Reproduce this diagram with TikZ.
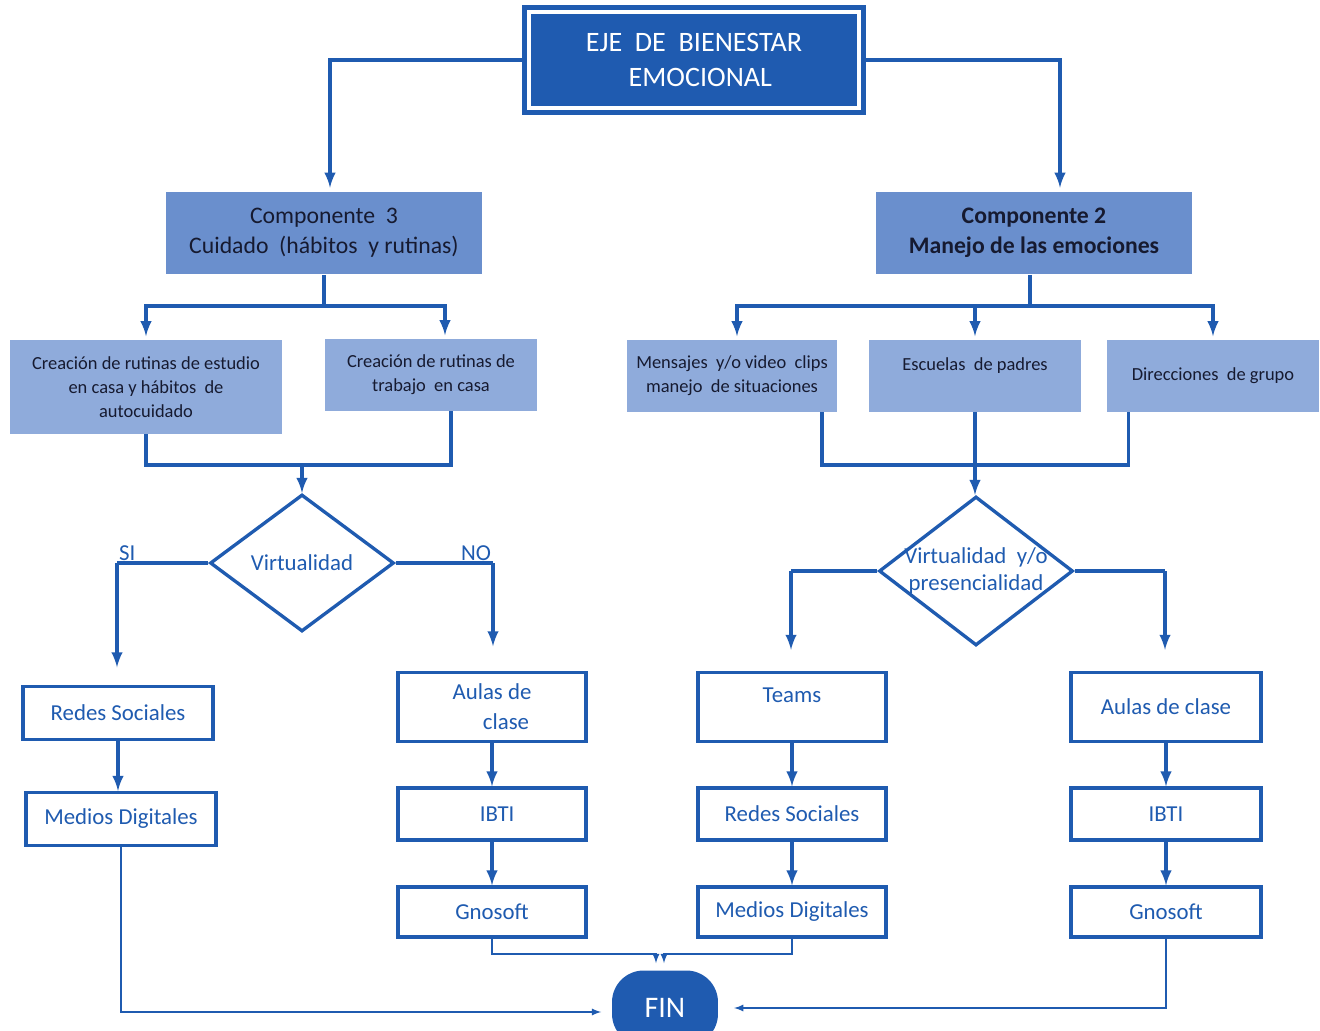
\documentclass[tikz,border=0pt]{standalone}
\usepackage{fontspec}
\setmainfont{Carlito}
\usetikzlibrary{arrows,shapes,positioning,calc}
\definecolor{ebblue}{RGB}{31,91,176}
\definecolor{ebmid}{RGB}{106,143,205}
\definecolor{eblight}{RGB}{143,171,219}
\definecolor{ebtext}{RGB}{22,26,48}
\tikzstyle{arrow} = [line width=1.9pt,->,>=latex,color=ebblue]
\tikzstyle{link} = [line width=1.9pt,color=ebblue]
\tikzstyle{thinarrow} = [line width=0.8pt,->,>=latex,color=ebblue]
\tikzstyle{compbox} = [rectangle, fill=ebmid, text=ebtext, align=center, minimum width=6.32cm, minimum height=1.66cm, font=\fontsize{13.5}{17}\selectfont]
\tikzstyle{subbox} = [rectangle, fill=eblight, text=ebtext, align=center, minimum height=1.44cm, font=\fontsize{10.5}{13.5}\selectfont]
\tikzstyle{toolbox} = [rectangle, draw=ebblue, line width=1.9pt, fill=white, text=ebblue, align=center, minimum width=3.76cm, font=\fontsize{13}{17}\selectfont]
\tikzstyle{decision} = [diamond, draw=ebblue, line width=1.9pt, text=ebblue, align=center, inner sep=-6pt, font=\fontsize{13}{15}\selectfont]

\begin{document}
\begin{tikzpicture}[x=0.02cm, y=-0.02cm]
    \useasboundingbox (0,0) rectangle (1320,1031);

    % Main axis
    \node[rectangle, fill=ebblue, draw=ebblue, line width=2.6pt, double=white, double distance=2.8pt,
          minimum width=6.6cm, minimum height=1.92cm, text=white, align=center,
          font=\fontsize{16}{20}\selectfont] (eje) at (694,60) {EJE\ \ DE\ \ BIENESTAR\\\ \ EMOCIONAL};

    % Components
    \node[compbox] (comp3) at (324,233) {Componente\ \ 3\\Cuidado\ \ (hábitos\ \ y rutinas)};
    \node[compbox, font=\bfseries\fontsize{13.5}{17}\selectfont] (comp2) at (1034,233) {Componente 2\\Manejo de las emociones};
    \draw[arrow, shorten >=2pt] (eje.west) -| ($(comp3.north)+(6,0)$);
    \draw[arrow, shorten >=2pt] (eje.east) -| ($(comp2.north)+(26,0)$);

    % Strategies (component 3)
    \node[subbox, minimum width=5.44cm, minimum height=1.88cm] (subA) at (146,387) {Creación de rutinas de estudio\\en casa y hábitos\ \ de\\autocuidado};
    \node[subbox, minimum width=4.26cm] (subB) at (431,375) {Creación de rutinas de\\trabajo\ \ en casa};
    \coordinate (c3split) at ($(comp3.south)+(0,31)$);
    \draw[link] (comp3.south) -- (c3split);
    \draw[arrow, shorten >=2pt] (c3split) -| (subA.north);
    \draw[arrow, shorten >=2pt] (c3split) -| ($(subB.north)+(14,0)$);

    % Strategies (component 2)
    \node[subbox, minimum width=4.22cm] (subC) at (732,376) {Mensajes\ \ y/o video\ \ clips\\manejo\ \ de situaciones};
    \node[subbox, minimum width=4.24cm] (subD) at (975,376) {Escuelas\ \ de padres\\\mbox{}};
    \node[subbox, minimum width=4.26cm] (subE) at (1213,376) {Direcciones\ \ de grupo};
    \coordinate (c2split) at ($(comp2.south)+(-4,31)$);
    \draw[link] ($(comp2.south)+(-4,0)$) -- (c2split);
    \draw[arrow, shorten >=2pt] (c2split) -| ($(subC.north)+(5,0)$);
    \draw[arrow, shorten >=2pt] (c2split) -| (subD.north);
    \draw[arrow, shorten >=2pt] (c2split) -| (subE.north);

    % Decisions
    \node[decision, minimum width=3.68cm, minimum height=2.74cm] (virt) at (302,563) {Virtualidad};
    \node[decision, minimum width=3.88cm, minimum height=2.98cm] (virt2) at (976,571) {Virtualidad\ \ y/o\\presencialidad};

    \coordinate (c3join) at (virt.north |- 0,465);
    \draw[link] (subA.south) |- (c3join);
    \draw[link] ($(subB.south)+(20,0)$) |- (c3join);
    \draw[arrow] (c3join) -- (virt.north);

    \coordinate (c2join) at (subD.south |- 0,465);
    \draw[link] ($(subC.south east)+(-16,0)$) |- (c2join);
    \draw[link] ($(subE.south west)+(22,0)$) |- (c2join);
    \draw[link] (subD.south) -- (c2join);
    \draw[arrow] (c2join) -- (c2join |- virt2.north);

    % Tools
    \node[toolbox, minimum width=3.8cm, minimum height=1.06cm] (redes1) at (118,713) {Redes Sociales};
    \node[toolbox, minimum width=3.8cm, minimum height=1.06cm] (medios1) at (121,819) {Medios Digitales};
    \node[toolbox, minimum height=1.38cm] (aulas1) at (492,707) {Aulas de\\\quad\ clase};
    \node[toolbox, minimum height=1.04cm] (ibti1) at (492,814) {\ \ IBTI};
    \node[toolbox, minimum height=1.0cm] (gno1) at (492,912) {Gnosoft};
    \node[toolbox, minimum height=1.38cm] (teams) at (792,707) {Teams\\[-4pt]\mbox{}};
    \node[toolbox, minimum height=1.04cm] (redes2) at (792,814) {Redes Sociales};
    \node[toolbox, minimum height=1.0cm] (medios2) at (792,912) {Medios Digitales};
    \node[toolbox, minimum width=3.8cm, minimum height=1.38cm] (aulas2) at (1166,707) {Aulas de clase};
    \node[toolbox, minimum width=3.8cm, minimum height=1.04cm] (ibti2) at (1166,814) {IBTI};
    \node[toolbox, minimum width=3.8cm, minimum height=1.0cm] (gno2) at (1166,912) {Gnosoft};

    % SI / NO branches
    \coordinate (si) at (117,0 |- virt.west);
    \coordinate (no) at (493,0 |- virt.east);
    \draw[link] (virt.west) -- (si);
    \draw[link] (virt.east) -- (no);
    \node[above right, inner sep=1pt, text=ebblue, font=\fontsize{13}{15}\selectfont] at (si) {SI};
    \node[above left, inner sep=1pt, text=ebblue, font=\fontsize{13}{15}\selectfont] at (no) {NO};
    \draw[arrow, shorten >=10pt] (si) -- (si |- redes1.north);
    \draw[arrow, shorten >=14pt] (no) -- (no |- aulas1.north);

    \coordinate (vl) at (791,0 |- virt2.west);
    \coordinate (vr) at (1165,0 |- virt2.east);
    \draw[link] (virt2.west) -- (vl);
    \draw[link] (virt2.east) -- (vr);
    \draw[arrow, shorten >=12pt] (vl) -- (vl |- teams.north);
    \draw[arrow, shorten >=12pt] (vr) -- (vr |- aulas2.north);

    \draw[arrow] (redes1) -- (redes1 |- medios1.north);
    \draw[arrow] (aulas1) -- (ibti1);
    \draw[arrow] (ibti1) -- (gno1);
    \draw[arrow] (teams) -- (redes2);
    \draw[arrow] (redes2) -- (medios2);
    \draw[arrow] (aulas2) -- (ibti2);
    \draw[arrow] (ibti2) -- (gno2);

    % End
    \node[rectangle, rounded corners=18pt, fill=ebblue, text=white, minimum width=2.12cm, minimum height=1.5cm,
          font=\fontsize{17}{20}\selectfont] (fin) at (665,1008) {FIN};
    \coordinate (fl) at (656,954);
    \coordinate (fr) at (664,954);
    \draw[thinarrow, shorten >=4pt] (gno1.south) |- (fl) -- (fl |- fin.north);
    \draw[thinarrow, shorten >=4pt] (medios2.south) |- (fr) -- (fr |- fin.north);
    \draw[thinarrow, shorten >=6pt] (medios1.south) |- ($(fin.west)+(0,4)$);
    \draw[thinarrow, shorten >=9pt] (gno2.south) |- (fin.east);
\end{tikzpicture}
\end{document}
